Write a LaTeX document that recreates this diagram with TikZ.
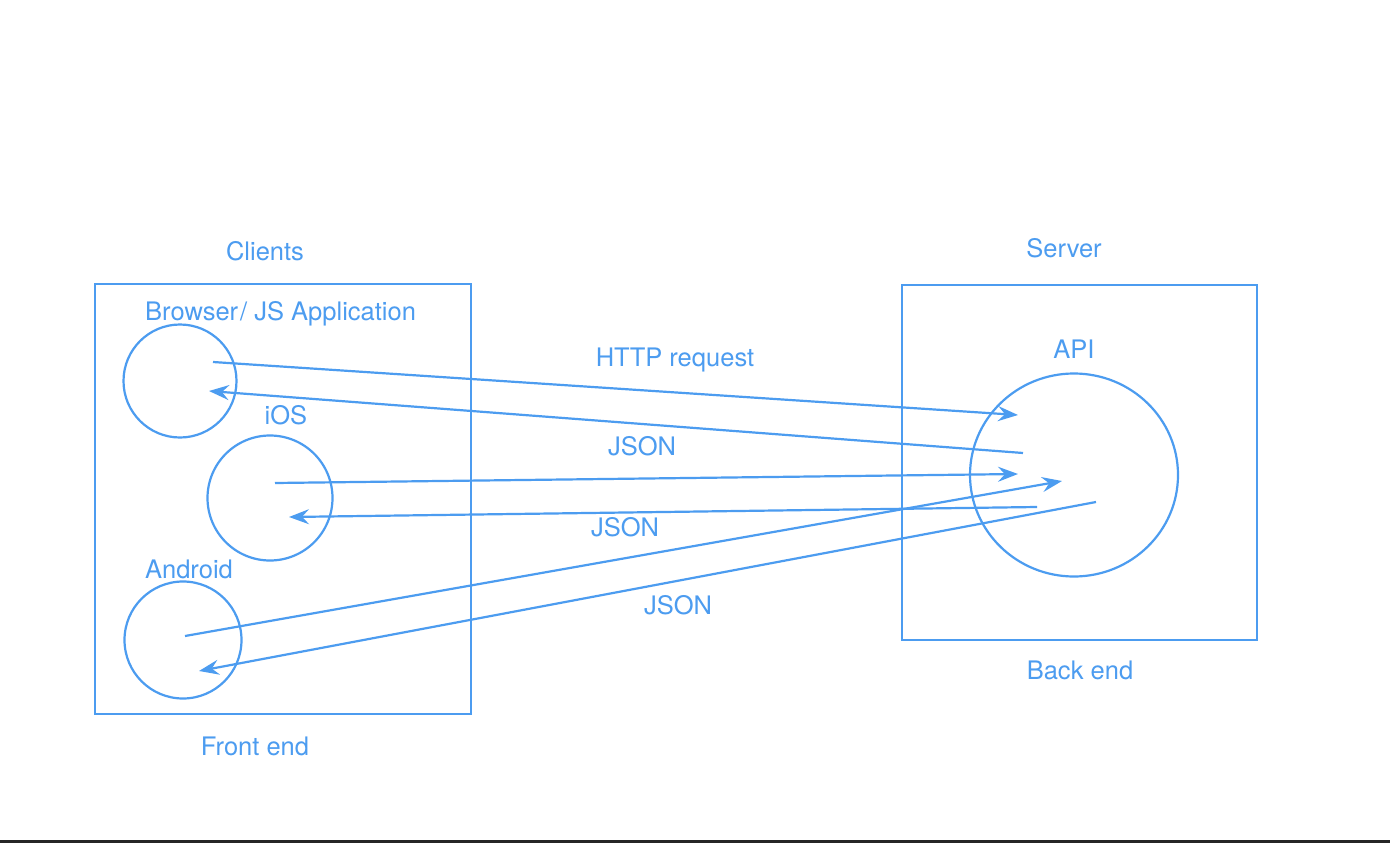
\documentclass[tikz,border=0pt]{standalone}
\usepackage{fontspec}
\setmainfont{TeX Gyre Heros}
\usetikzlibrary{arrows.meta,shapes.geometric}
\definecolor{ln}{RGB}{76,156,240}
\tikzset{
  lbl/.style={text=ln, font=\fontsize{25.5}{28}\selectfont, inner sep=0pt},
  grp/.style={draw=ln, line width=2.2pt},
  dev/.style={draw=ln, line width=2.2pt, circle, inner sep=0pt},
  msg/.style={draw=ln, line width=2.2pt, -{Stealth[length=20pt, width=15pt, inset=7pt]}},
}
\begin{document}
\begin{tikzpicture}[x=1pt, y=-1pt]
\path[use as bounding box, fill=white] (0,0) rectangle (1390,843);
\fill[black!85] (0,840) rectangle (1390,843);

% group boxes
\draw[grp] (95,284) rectangle (471,714);
\draw[grp] (902,285) rectangle (1257,640);

% devices
\node[dev, minimum size=113pt] (browser) at (180,381) {};
\node[dev, minimum size=125pt] (ios) at (270,498) {};
\node[dev, minimum size=117pt] (android) at (183,640) {};
\node[draw=ln, line width=2.2pt, ellipse, minimum width=208pt, minimum height=203pt, inner sep=0pt] (api) at (1074,475) {};

% labels
\node[lbl] (clients) at (265,251) {Clients};
\node[lbl] (server) at (1064,248) {Server};
\node[lbl, anchor=west] (lbrowser) at (145,311) {Browser};
\node[lbl, anchor=west] (ljs) at (240,314) {/ JS Application};
\node[lbl] (lios) at (286,415) {iOS};
\node[lbl] (landroid) at (189,569) {Android};
\node[lbl] (lapi) at (1074,349) {API};
\node[lbl] (lhttp) at (675,360) {HTTP request};
\node[lbl] (lj1) at (642,446) {JSON};
\node[lbl] (lj2) at (625,527) {JSON};
\node[lbl] (lj3) at (678,605) {JSON};
\node[lbl] (front) at (255,746) {Front end};
\node[lbl] (back) at (1080,670) {Back end};

% connector end points
\coordinate (b1) at (213,362);
\coordinate (b2) at (209,391);
\coordinate (i1) at (275,483);
\coordinate (i2) at (289,517);
\coordinate (d1) at (185,636);
\coordinate (d2) at (199,671);
\coordinate (a1) at (1018,415);
\coordinate (a2) at (1023,453);
\coordinate (a3) at (1018,474);
\coordinate (a4) at (1037,507);
\coordinate (a5) at (1062,481);
\coordinate (a6) at (1096,502);

% messages
\draw[msg] (b1) -- (a1);
\draw[msg] (a2) -- (b2);
\draw[msg] (i1) -- (a3);
\draw[msg] (a4) -- (i2);
\draw[msg] (d1) -- (a5);
\draw[msg] (a6) -- (d2);
\end{tikzpicture}
\end{document}
